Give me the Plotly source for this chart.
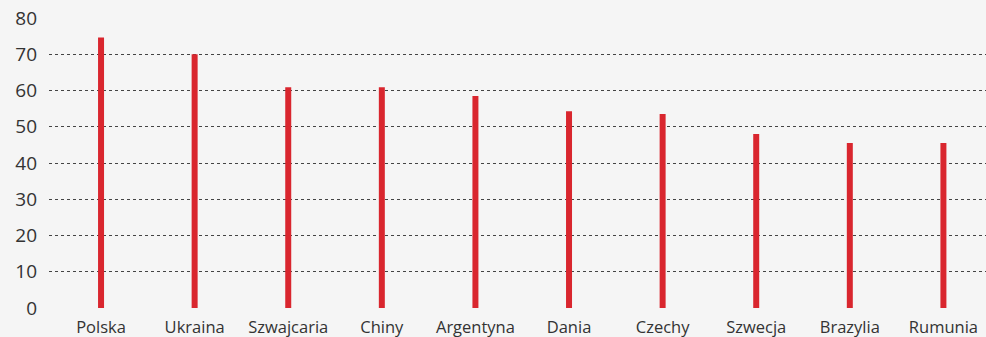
import plotly.graph_objects as go

countries = ["Polska", "Ukraina", "Szwajcaria", "Chiny", "Argentyna",
             "Dania", "Czechy", "Szwecja", "Brazylia", "Rumunia"]
values = [74.6, 70.0, 60.9, 60.9, 58.5, 54.3, 53.5, 48.0, 45.5, 45.5]
y_ticks = [0, 10, 20, 30, 40, 50, 60, 70, 80]

positions = list(range(len(countries)))

fig = go.Figure(
    go.Bar(
        x=positions,
        y=values,
        width=0.064,
        marker=dict(color="#d9262e", line=dict(width=0)),
        hovertemplate="%{text}: %{y}<extra></extra>",
        text=countries,
        textposition="none",
    )
)

fig.update_layout(
    width=986,
    height=337,
    margin=dict(l=49, r=0, t=18, b=29),
    paper_bgcolor="#f5f5f5",
    plot_bgcolor="#f5f5f5",
    showlegend=False,
    font=dict(family="Open Sans, sans-serif", color="#333333"),
)

fig.update_xaxes(
    tickmode="array",
    tickvals=positions,
    ticktext=countries,
    range=[-0.556, 9.455],
    showgrid=False,
    zeroline=False,
    showline=False,
    ticks="",
    ticklabelstandoff=7,
    tickfont=dict(size=16.5, color="#333333"),
)

fig.update_yaxes(
    range=[0, 80],
    tickvals=y_ticks,
    showgrid=True,
    gridcolor="#444444",
    griddash="dot",
    gridwidth=1,
    zeroline=False,
    showline=False,
    ticks="",
    ticklabelstandoff=11,
    tickfont=dict(size=19, color="#333333"),
    layer="below traces",
)

fig.write_html("out.html")
